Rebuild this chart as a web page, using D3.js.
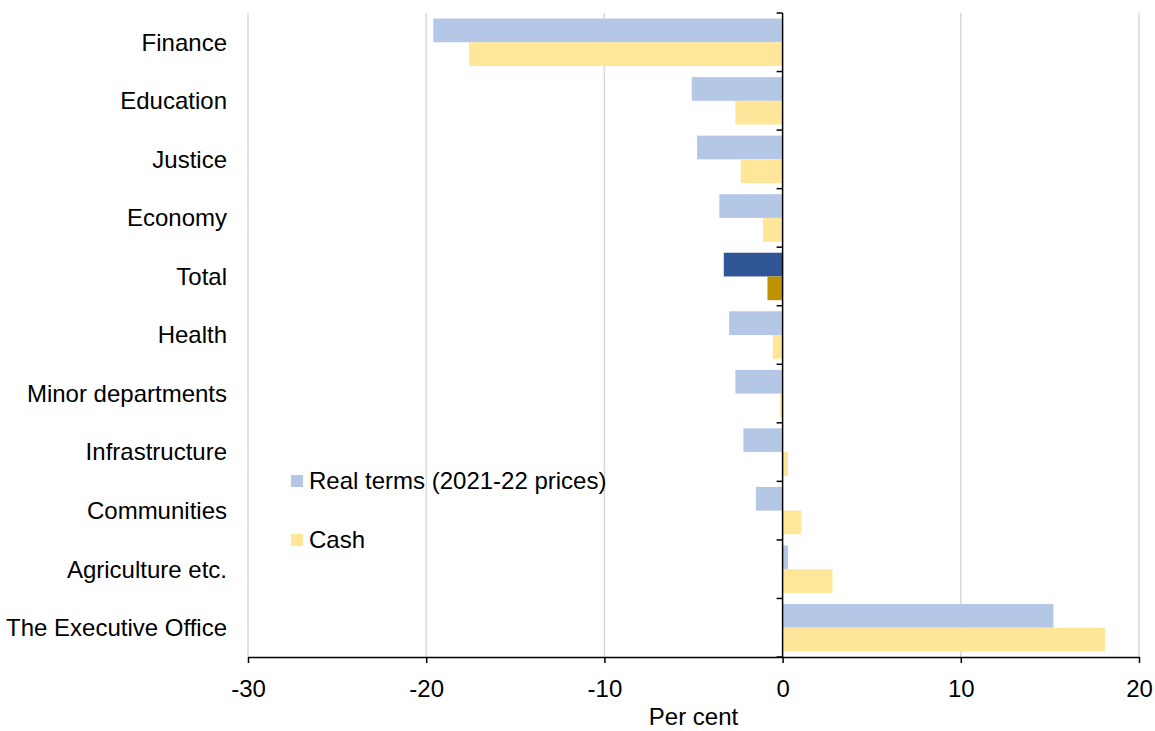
<!DOCTYPE html>
<html>
<head>
<meta charset="utf-8">
<script src="https://cdn.jsdelivr.net/npm/d3@7"></script>
<style>
  body { margin: 0; background: #fff; }
  text { font-family: "Liberation Sans", Arial, sans-serif; fill: #000; }
</style>
</head>
<body>
<div id="chart"></div>
<script>
var categories = ['Finance', 'Education', 'Justice', 'Economy', 'Total', 'Health',
                  'Minor departments', 'Infrastructure', 'Communities', 'Agriculture etc.', 'The Executive Office'];
var realTerms = [-19.6, -5.1, -4.8, -3.55, -3.3, -3.0, -2.65, -2.2, -1.5, 0.3, 15.2];
var cash = [-17.6, -2.65, -2.35, -1.1, -0.85, -0.55, -0.15, 0.3, 1.05, 2.8, 18.1];
var xTicks = [-30, -20, -10, 0, 10, 20];
var seriesNames = ['Real terms (2021-22 prices)', 'Cash'];

var width = 1155, height = 731;
var margin = {top: 13, right: 16, bottom: 74, left: 248};
var fontSize = 24;

var colours = {real: '#b4c7e7', cash: '#ffe699', realTotal: '#2f5597', cashTotal: '#bf9000'};

var svg = d3.select('#chart')
    .append('svg')
    .attr('width', width)
    .attr('height', height);

var x = d3.scaleLinear()
    .domain([-30, 20])
    .range([margin.left, width - margin.right]);

var y = d3.scaleBand()
    .domain(categories)
    .range([margin.top, height - margin.bottom])
    .paddingInner(0.19)
    .paddingOuter(0.095);

var ySeries = d3.scaleBand()
    .domain(['real', 'cash'])
    .range([0, y.bandwidth()]);

var rows = categories.map(function(c, i){
    return {name: c, real: realTerms[i], cash: cash[i]}
});

// gridlines
svg.append('g')
    .selectAll('line')
    .data(xTicks.filter(function(d){ return d != 0 }))
    .enter()
    .append('line')
    .attr('x1', function(d){ return x(d) })
    .attr('x2', function(d){ return x(d) })
    .attr('y1', margin.top)
    .attr('y2', height - margin.bottom)
    .attr('stroke', '#d9d9d9')
    .attr('stroke-width', 1.5);

// bars
var groups = svg.append('g')
    .selectAll('g')
    .data(rows)
    .enter()
    .append('g')
    .attr('transform', function(d){ return 'translate(0,' + y(d.name) + ')' });

['real', 'cash'].forEach(function(key){
    groups.append('rect')
        .attr('x', function(d){ return x(Math.min(0, d[key])) })
        .attr('width', function(d){ return Math.abs(x(d[key]) - x(0)) })
        .attr('y', ySeries(key))
        .attr('height', ySeries.bandwidth())
        .attr('fill', function(d){
            if (d.name == 'Total') { return key == 'real' ? colours.realTotal : colours.cashTotal }
            return colours[key]
        });
});

// x axis
var xAxis = svg.append('g')
    .attr('transform', 'translate(0,' + (height - margin.bottom) + ')')
    .call(d3.axisBottom(x).tickValues(xTicks).tickSize(6).tickSizeOuter(0)
        .tickFormat(function(d){ return String(d) }));
xAxis.select('.domain').attr('stroke', '#000').attr('stroke-width', 1.5);
xAxis.selectAll('.tick line').attr('stroke', '#000').attr('stroke-width', 1.5);
xAxis.selectAll('.tick text')
    .attr('font-size', fontSize)
    .attr('font-family', '"Liberation Sans", Arial, sans-serif')
    .attr('y', 40)
    .attr('dy', null);

svg.append('text')
    .attr('x', (margin.left + width - margin.right) / 2)
    .attr('y', 725)
    .attr('text-anchor', 'middle')
    .attr('font-size', fontSize)
    .text('Per cent');

// y axis line at zero with ticks between categories
var step = y.step();
var bounds = d3.range(categories.length + 1).map(function(i){ return margin.top + i * step });
svg.append('line')
    .attr('x1', x(0)).attr('x2', x(0))
    .attr('y1', margin.top).attr('y2', height - margin.bottom)
    .attr('stroke', '#000').attr('stroke-width', 1.5);
svg.append('g')
    .selectAll('line')
    .data(bounds)
    .enter()
    .append('line')
    .attr('x1', x(0) - 6).attr('x2', x(0))
    .attr('y1', function(d){ return d }).attr('y2', function(d){ return d })
    .attr('stroke', '#000').attr('stroke-width', 1.5);

// category labels
svg.append('g')
    .selectAll('text')
    .data(categories)
    .enter()
    .append('text')
    .attr('x', 227)
    .attr('y', function(d){ return y(d) + y.bandwidth() / 2 })
    .attr('dy', '0.35em')
    .attr('text-anchor', 'end')
    .attr('font-size', fontSize)
    .text(function(d){ return d });

// legend
var legend = svg.append('g')
    .selectAll('g')
    .data(seriesNames)
    .enter()
    .append('g')
    .attr('transform', function(d, i){ return 'translate(291,' + (475 + i * 59) + ')' });
legend.append('rect')
    .attr('width', 12)
    .attr('height', 12)
    .attr('fill', function(d, i){ return i == 0 ? colours.real : colours.cash });
legend.append('text')
    .attr('x', 18)
    .attr('y', 6)
    .attr('dy', '0.35em')
    .attr('font-size', fontSize)
    .text(function(d){ return d });
</script>
</body>
</html>
